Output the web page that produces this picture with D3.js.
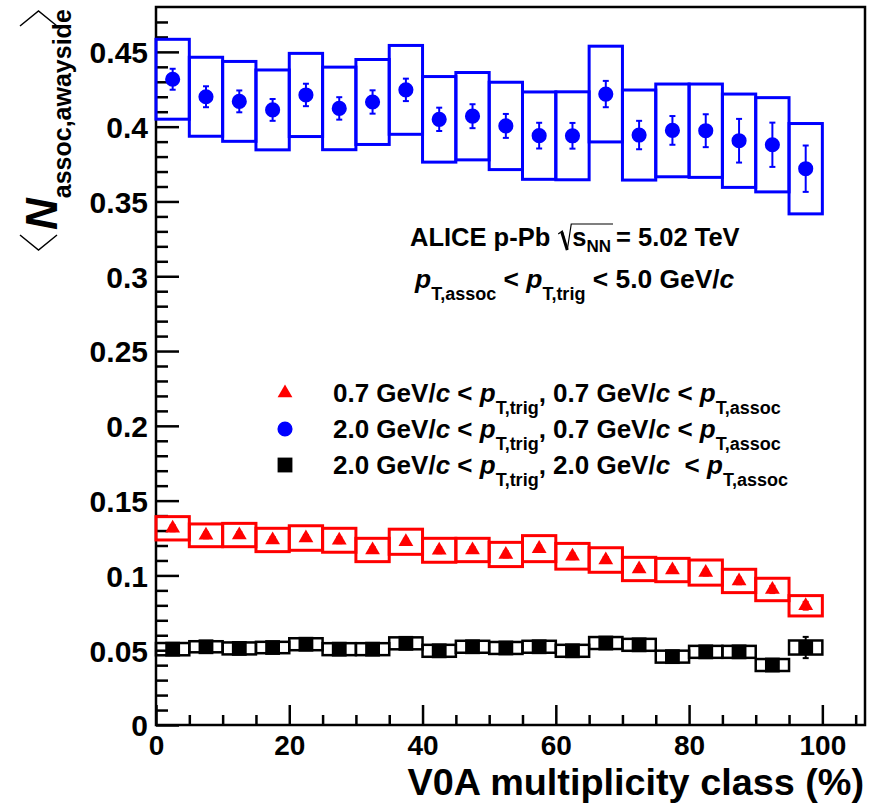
<!DOCTYPE html>
<html>
<head>
<meta charset="utf-8">
<script src="https://cdn.jsdelivr.net/npm/d3@7"></script>
<style>
  body { margin: 0; background: #fff; }
  svg { display: block; }
  text { font-family: "Liberation Sans", Arial, Helvetica, sans-serif; font-weight: bold; fill: #000; }
</style>
</head>
<body>
<svg id="chart" width="876" height="807"></svg>
<script>
// V0A multiplicity classes (%), lower and upper bin edges
const binLow  = [0, 5, 10, 15, 20, 25, 30, 35, 40, 45, 50, 55, 60, 65, 70, 75, 80, 85, 90, 95];
const binHigh = [5, 10, 15, 20, 25, 30, 35, 40, 45, 50, 55, 60, 65, 70, 75, 80, 85, 90, 95, 100];

// 0.7 GeV/c < pT,trig, 0.7 GeV/c < pT,assoc
const redVal  = [0.1315, 0.1268, 0.1270, 0.1237, 0.1250, 0.1235, 0.1170, 0.1225, 0.1168, 0.1170,
                 0.1140, 0.1179, 0.1128, 0.1103, 0.1043, 0.1036, 0.1019, 0.0963, 0.0906, 0.0797];
const redStat = [0.0020, 0.0020, 0.0020, 0.0020, 0.0020, 0.0020, 0.0020, 0.0020, 0.0020, 0.0020,
                 0.0020, 0.0020, 0.0020, 0.0020, 0.0020, 0.0020, 0.0020, 0.0022, 0.0024, 0.0026];
const redSys  = [0.0078, 0.0076, 0.0078, 0.0078, 0.0082, 0.0080, 0.0078, 0.0084, 0.0080, 0.0078,
                 0.0081, 0.0087, 0.0086, 0.0082, 0.0078, 0.0078, 0.0084, 0.0078, 0.0075, 0.0068];

// 2.0 GeV/c < pT,trig, 0.7 GeV/c < pT,assoc
const blueVal  = [0.4317, 0.4200, 0.4169, 0.4112, 0.4212, 0.4122, 0.4165, 0.4246, 0.4049, 0.4070,
                  0.4005, 0.3940, 0.3939, 0.4218, 0.3944, 0.3975, 0.3973, 0.3906, 0.3879, 0.3719];
const blueStat = [0.0070, 0.0070, 0.0073, 0.0073, 0.0075, 0.0075, 0.0078, 0.0075, 0.0078, 0.0080,
                  0.0080, 0.0086, 0.0086, 0.0088, 0.0095, 0.0096, 0.0110, 0.0146, 0.0148, 0.0155];
const blueSys  = [0.0267, 0.0264, 0.0267, 0.0267, 0.0278, 0.0276, 0.0284, 0.0297, 0.0286, 0.0292,
                  0.0292, 0.0292, 0.0294, 0.0320, 0.0301, 0.0310, 0.0312, 0.0312, 0.0315, 0.0302];

// 2.0 GeV/c < pT,trig, 2.0 GeV/c < pT,assoc
const blackVal  = [0.0507, 0.0523, 0.0512, 0.0518, 0.0540, 0.0507, 0.0507, 0.0546, 0.0496, 0.0523,
                   0.0515, 0.0523, 0.0496, 0.0548, 0.0536, 0.0457, 0.0489, 0.0489, 0.0401, 0.0518];
const blackStat = [0.0030, 0.0030, 0.0030, 0.0030, 0.0030, 0.0030, 0.0030, 0.0030, 0.0030, 0.0030,
                   0.0030, 0.0030, 0.0030, 0.0030, 0.0030, 0.0030, 0.0032, 0.0035, 0.0040, 0.0071];
const blackSys  = [0.0041, 0.0037, 0.0040, 0.0038, 0.0040, 0.0040, 0.0040, 0.0040, 0.0040, 0.0040,
                   0.0040, 0.0040, 0.0040, 0.0040, 0.0040, 0.0040, 0.0040, 0.0040, 0.0040, 0.0047];

// axis ticks
const xMajorTicks = [0, 20, 40, 60, 80, 100];
const xMinorTicks = [5, 10, 15, 25, 30, 35, 45, 50, 55, 65, 70, 75, 85, 90, 95, 105];
const yMajorTicks = [0, 0.05, 0.1, 0.15, 0.2, 0.25, 0.3, 0.35, 0.4, 0.45];
const yMinorTicks = [0.01, 0.02, 0.03, 0.04, 0.06, 0.07, 0.08, 0.09, 0.11, 0.12, 0.13, 0.14,
                     0.16, 0.17, 0.18, 0.19, 0.21, 0.22, 0.23, 0.24, 0.26, 0.27, 0.28, 0.29,
                     0.31, 0.32, 0.33, 0.34, 0.36, 0.37, 0.38, 0.39, 0.41, 0.42, 0.43, 0.44,
                     0.46, 0.47];

// legend entries: trigger and associated thresholds (GeV/c)
const legendTrig  = ["0.7", "2.0", "2.0"];
const legendAssoc = ["0.7", "0.7", "2.0"];

const svg = d3.select("#chart");
const frame = { left: 156, right: 865, top: 7, bottom: 725 };

const x = d3.scaleLinear().domain([0, 106.4]).range([frame.left, frame.right]);
const y = d3.scaleLinear().domain([0, 0.48]).range([frame.bottom, frame.top]);

// ---------- axes ----------
const yAxisG = svg.append("g").attr("transform", `translate(${frame.left},0)`);
yAxisG.call(d3.axisLeft(y).tickValues(yMajorTicks).tickSize(-23).tickPadding(8)
  .tickFormat(d => d === 0 ? "0" : d3.format("")(+d.toFixed(2))));
yAxisG.append("g").call(d3.axisLeft(y).tickValues(yMinorTicks).tickSize(-12).tickFormat(""));
yAxisG.selectAll(".domain").remove();
yAxisG.selectAll("line").attr("stroke", "#000").attr("stroke-width", 2.5);
yAxisG.selectAll("text").style("font-size", "30px").attr("dy", "0.36em");

const xAxisG = svg.append("g").attr("transform", `translate(0,${frame.bottom})`);
xAxisG.call(d3.axisBottom(x).tickValues(xMajorTicks).tickSize(-20).tickPadding(10).tickFormat(d3.format("d")));
xAxisG.append("g").call(d3.axisBottom(x).tickValues(xMinorTicks).tickSize(-10).tickFormat(""));
xAxisG.selectAll(".domain").remove();
xAxisG.selectAll("line").attr("stroke", "#000").attr("stroke-width", 2.5);
xAxisG.selectAll("text").style("font-size", "28px").attr("dy", "0.71em");

// frame
svg.append("rect")
  .attr("x", frame.left).attr("y", frame.top)
  .attr("width", frame.right - frame.left).attr("height", frame.bottom - frame.top)
  .attr("fill", "none").attr("stroke", "#000").attr("stroke-width", 2.5);

// ---------- data ----------
function drawSeries(vals, stat, sys, color, symbolType, symbolSize, boxStroke) {
  const g = svg.append("g");
  // systematic boxes
  g.selectAll("rect.sys").data(vals).join("rect")
    .attr("class", "sys")
    .attr("x", (d, i) => x(binLow[i]))
    .attr("width", (d, i) => x(binHigh[i]) - x(binLow[i]))
    .attr("y", (d, i) => y(d + sys[i]))
    .attr("height", (d, i) => y(d - sys[i]) - y(d + sys[i]))
    .attr("fill", "none").attr("stroke", color).attr("stroke-width", boxStroke);
  // statistical error bars
  const cx = i => x((binLow[i] + binHigh[i]) / 2);
  g.selectAll("line.stat").data(vals).join("line")
    .attr("class", "stat")
    .attr("x1", (d, i) => cx(i)).attr("x2", (d, i) => cx(i))
    .attr("y1", (d, i) => y(d + stat[i])).attr("y2", (d, i) => y(d - stat[i]))
    .attr("stroke", color).attr("stroke-width", 2);
  ["+", "-"].forEach(s => {
    g.selectAll(`line.cap${s === "+" ? "u" : "d"}`).data(vals).join("line")
      .attr("x1", (d, i) => cx(i) - 3).attr("x2", (d, i) => cx(i) + 3)
      .attr("y1", (d, i) => y(s === "+" ? d + stat[i] : d - stat[i]))
      .attr("y2", (d, i) => y(s === "+" ? d + stat[i] : d - stat[i]))
      .attr("stroke", color).attr("stroke-width", 2);
  });
  // markers
  g.selectAll("path.mk").data(vals).join("path")
    .attr("class", "mk")
    .attr("transform", (d, i) => `translate(${cx(i)},${y(d)})`)
    .attr("d", d3.symbol().type(symbolType).size(symbolSize))
    .attr("fill", color);
}

drawSeries(redVal, redStat, redSys, "#ff0000", d3.symbolTriangle, 95, 3);
drawSeries(blueVal, blueStat, blueSys, "#0000ff", d3.symbolCircle, 180, 3);
drawSeries(blackVal, blackStat, blackSys, "#000000", d3.symbolSquare, 220, 2.5);

// ---------- rich text helper ----------
function rich(parent, x0, y0, pieces, size, subSize, subShift) {
  const t = parent.append("text").attr("x", x0).attr("y", y0).style("font-size", size + "px");
  let inSub = false;
  pieces.forEach(p => {
    const ts = t.append("tspan").text(p.t);
    if (p.it) ts.style("font-style", "italic");
    if (p.sub && !inSub) { ts.attr("dy", subShift); inSub = true; }
    else if (!p.sub && inSub) { ts.attr("dy", -subShift); inSub = false; }
    if (p.sub) ts.style("font-size", subSize + "px");
  });
  return t;
}

// ---------- y-axis title ----------
const yt = svg.append("g").attr("transform", "translate(57,252) rotate(-90)");
yt.append("path").attr("d", "M17,-37 L2,-18.5 L17,0")
  .attr("fill", "none").attr("stroke", "#000").attr("stroke-width", 1.5);
rich(yt, 22, 0, [{ t: "N", it: true }, { t: "assoc,awayside", sub: true }], 44, 25, 14);
yt.append("path").attr("d", "M226,-37 L241,-18.5 L226,0")
  .attr("fill", "none").attr("stroke", "#000").attr("stroke-width", 1.5);

// ---------- x-axis title ----------
svg.append("text").attr("x", 864).attr("y", 795).attr("text-anchor", "end")
  .style("font-size", "37.8px").text("V0A multiplicity class (%)");

// ---------- collision system label ----------
const ann = svg.append("g");
const annSize = 25.5;
const t1 = ann.append("text").attr("x", 410).attr("y", 246).style("font-size", annSize + "px").text("ALICE p-Pb");
const w1 = t1.node().getComputedTextLength();
const rx = 410 + w1 + 8;
const sNN = rich(ann, rx + 14, 246, [{ t: "s" }, { t: "NN", sub: true }], annSize, 17, 6);
const wS = sNN.node().getComputedTextLength();
// radical sign with overline
ann.append("path")
  .attr("d", `M${rx},${234} L${rx + 4},${231} L${rx + 9},${250} L${rx + 13},${224} L${rx + 14 + wS + 2},${224}`)
  .attr("fill", "none").attr("stroke", "#000").attr("stroke-width", 1.2);
ann.append("path")
  .attr("d", `M${rx + 3.5},${232} L${rx + 9},${250}`)
  .attr("stroke", "#000").attr("stroke-width", 3);
ann.append("text").attr("x", rx + 14 + wS + 5).attr("y", 246).style("font-size", annSize + "px").text("= 5.02 TeV");

rich(ann, 415, 288, [
  { t: "p", it: true }, { t: "T,assoc", sub: true },
  { t: " < " }, { t: "p", it: true }, { t: "T,trig", sub: true },
  { t: " < 5.0 GeV/" }, { t: "c", it: true }
], 26.4, 18, 12);

// ---------- legend ----------
const legend = svg.append("g");
const legendColors = ["#ff0000", "#0000ff", "#000000"];
const legendSymbols = [d3.symbolTriangle, d3.symbolCircle, d3.symbolSquare];
const legendSizes = [95, 180, 220];
legendTrig.forEach((tr, i) => {
  const rowY = 393 + i * 36;
  legend.append("path")
    .attr("transform", `translate(285,${rowY})`)
    .attr("d", d3.symbol().type(legendSymbols[i]).size(legendSizes[i]))
    .attr("fill", legendColors[i]);
  rich(legend, 333, rowY + 9, [
    { t: `${tr} GeV/` }, { t: "c", it: true }, { t: " < " }, { t: "p", it: true },
    { t: "T,trig", sub: true }, { t: `, ${legendAssoc[i]} GeV/` }, { t: "c", it: true },
    { t: i === 2 ? "  < " : " < " }, { t: "p", it: true }, { t: "T,assoc", sub: true }
  ], 26, 18, 12).attr("xml:space", "preserve");
});
</script>
</body>
</html>
